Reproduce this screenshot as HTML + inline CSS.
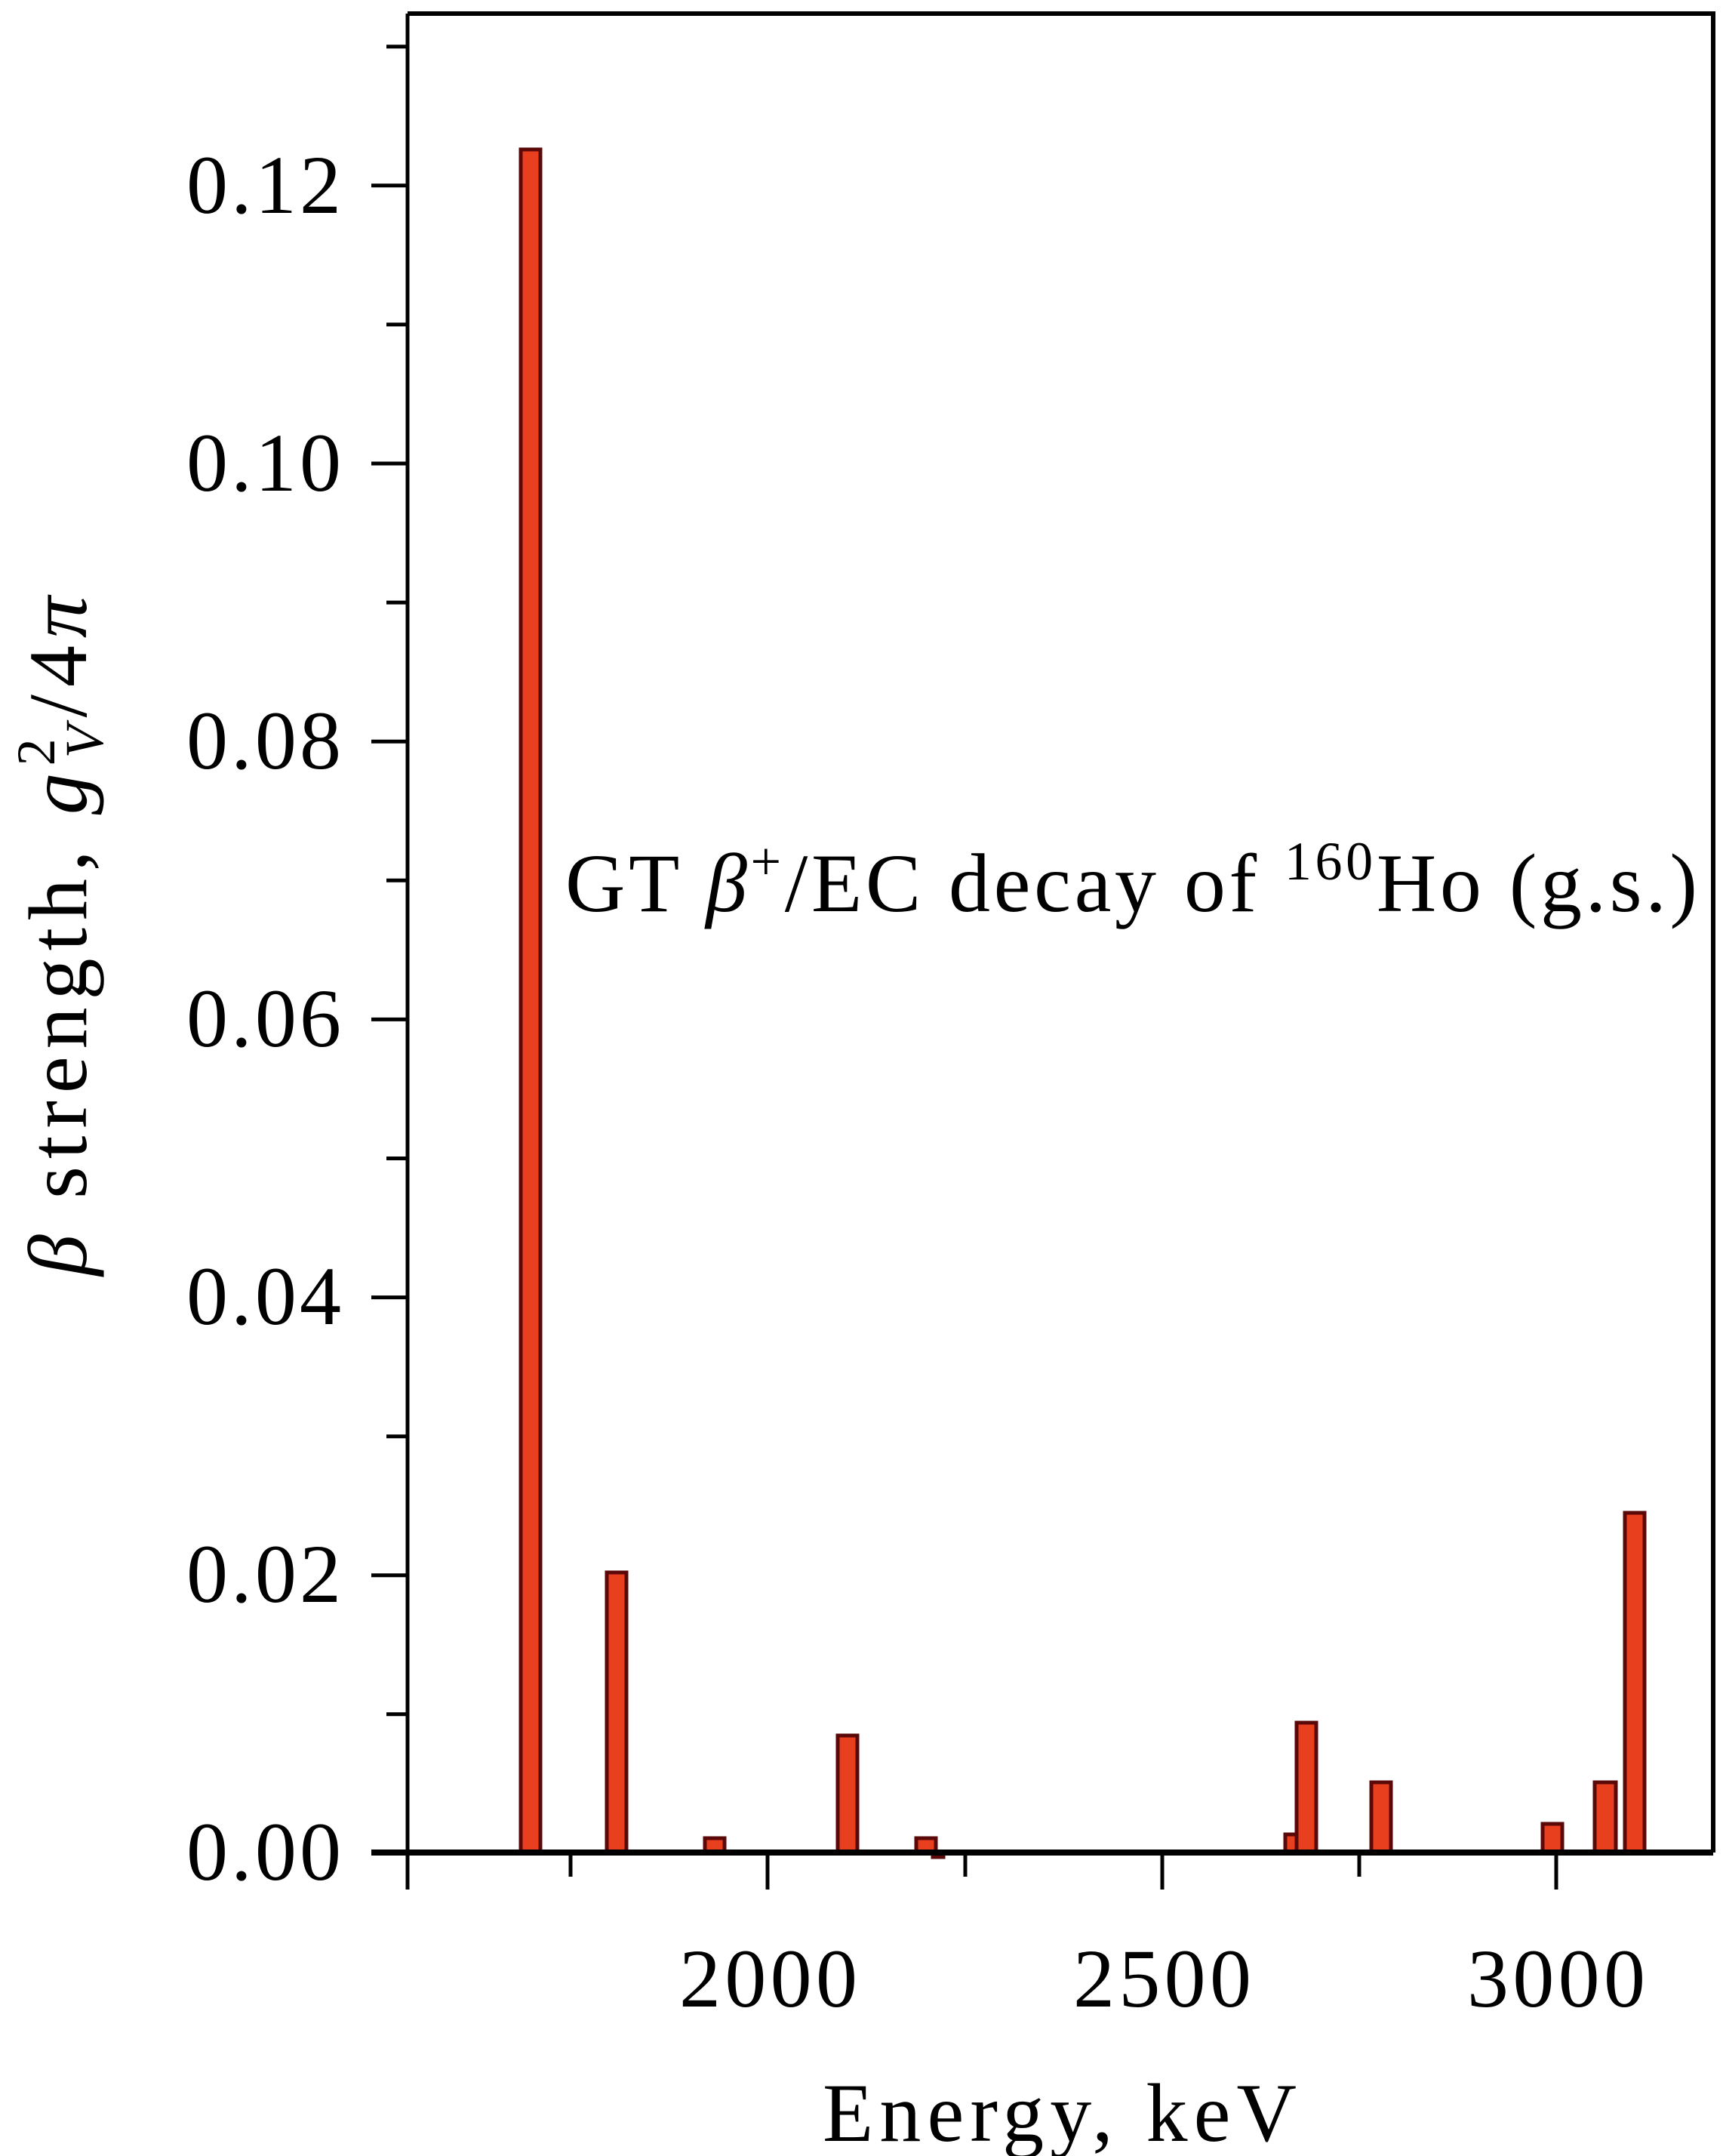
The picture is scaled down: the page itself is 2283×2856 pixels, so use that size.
<!DOCTYPE html>
<html><head><meta charset="utf-8"><style>html,body{margin:0;padding:0;background:#fff}svg{display:block}</style></head>
<body>
<svg width="2283" height="2856" viewBox="0 0 2283 2856" xmlns="http://www.w3.org/2000/svg" font-family="Liberation Serif, serif">
<rect width="2283" height="2856" fill="#fff"/>
<g fill="#e8401f" stroke="#5a0808" stroke-width="5">
<rect x="690" y="198" width="26" height="2256"/>
<rect x="804" y="2083" width="26" height="371"/>
<rect x="934" y="2435" width="26" height="19"/>
<rect x="1110" y="2299" width="26" height="155"/>
<rect x="1214" y="2435" width="26" height="19"/>
<rect x="1236" y="2456" width="14" height="4"/>
<rect x="1703" y="2430" width="16" height="24"/>
<rect x="1718" y="2282" width="26" height="172"/>
<rect x="1817" y="2361" width="26" height="93"/>
<rect x="2044" y="2416" width="26" height="38"/>
<rect x="2113" y="2361" width="28" height="93"/>
<rect x="2153" y="2004" width="26" height="450"/>
</g>
<g stroke="#000" fill="none">
<path d="M540 18 H2270 V2454" stroke-width="6"/>
<path d="M540 18 V2503" stroke-width="5"/>
<path d="M492 2454 H2270" stroke-width="8"/>
<g stroke-width="5">
<path d="M492 2086.8H540M492 1718.6H540M492 1350.4H540M492 982.2H540M492 614H540M492 245.8H540"/>
<path d="M512 2270.7H540M512 1902.7H540M512 1534.5H540M512 1166.3H540M512 798.1H540M512 429.9H540M512 61.7H540"/>
<path d="M1017 2454V2503M1540 2454V2503M2062 2454V2503"/>
<path d="M756 2454V2486M1279 2454V2486M1801 2454V2486"/>
</g>
</g>
<g font-size="110" fill="#000">
<text x="247" y="2490" textLength="205" lengthAdjust="spacing">0.00</text>
<text x="247" y="2122" textLength="205" lengthAdjust="spacing">0.02</text>
<text x="247" y="1754" textLength="205" lengthAdjust="spacing">0.04</text>
<text x="247" y="1386" textLength="205" lengthAdjust="spacing">0.06</text>
<text x="247" y="1018" textLength="205" lengthAdjust="spacing">0.08</text>
<text x="247" y="650" textLength="205" lengthAdjust="spacing">0.10</text>
<text x="247" y="282" textLength="205" lengthAdjust="spacing">0.12</text>
</g>
<g font-size="110" fill="#000">
<text x="900" y="2658" textLength="236" lengthAdjust="spacing">2000</text>
<text x="1422" y="2658" textLength="236" lengthAdjust="spacing">2500</text>
<text x="1944" y="2658" textLength="236" lengthAdjust="spacing">3000</text>
<text x="1090" y="2836" textLength="628" lengthAdjust="spacing">Energy, keV</text>
</g>
<text x="749" y="1207" font-size="110" fill="#000" textLength="1500" lengthAdjust="spacing">GT <tspan font-style="italic">β</tspan><tspan font-size="72" dy="-42">+</tspan><tspan dy="42">/EC decay of </tspan><tspan font-size="72" dy="-42">160</tspan><tspan dy="42">Ho (g.s.)</tspan></text>
<text transform="translate(114,1690) rotate(-90)" font-size="110" fill="#000" textLength="900" lengthAdjust="spacing"><tspan font-style="italic">β</tspan> strength, <tspan font-style="italic">g</tspan><tspan font-size="72" dy="-42">2</tspan><tspan font-size="72" dx="-36" dy="64" font-style="italic">V</tspan><tspan dy="-22">/4</tspan><tspan font-style="italic">π</tspan></text>
</svg>
</body></html>
